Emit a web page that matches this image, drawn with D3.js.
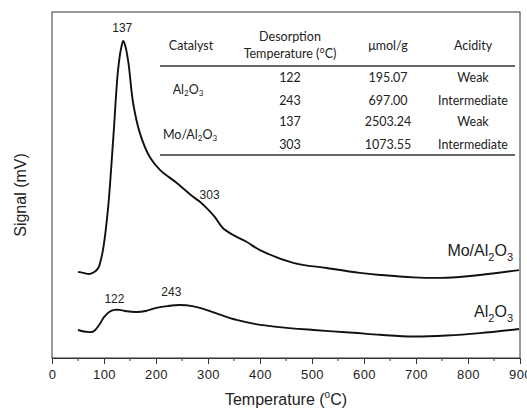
<!DOCTYPE html>
<html><head><meta charset="utf-8">
<script src="https://cdn.jsdelivr.net/npm/d3@7"></script>
<style>
html,body{margin:0;padding:0;background:#fff;}
svg{display:block;}
</style></head>
<body>
<svg id="chart" width="527" height="412"></svg>
<script>
// ---------- data ----------
const moTemp = [50,60,73,82,89,95,99,108,118,127,133,137,141,147,156,169,188,208,240,272,285,297,313,329,349,374,400,464,528,592,631,695,759,823,898];
const moSignal = [24.9,24.6,24.3,24.9,26.0,29.0,32.1,43.6,63.9,83.2,89.6,91.6,90.2,85.3,73.7,65.0,58.1,54.3,50.6,46.5,45.1,43.4,40.8,37.5,35.5,33.6,31.2,27.5,26.0,24.6,24.0,23.3,23.2,24.0,25.4];
const alTemp = [50,65,79,90,100,110,120,130,140,163,180,201,222,246,270,291,320,355,392,432,503,579,631,695,759,823,898];
const alSignal = [8.1,7.6,7.6,9.4,11.8,13.3,13.9,13.9,13.6,13.3,13.6,14.5,15.0,15.3,15.0,14.2,12.7,11.0,9.8,9.0,8.1,7.3,6.7,6.2,6.5,7.2,8.4];
const xTicks = [0,100,200,300,400,500,600,700,800,900];
const peakLabels = ["137","303","122","243"];
const peakTemps = [137,303,122,243];
const peakLevels = [95.4,47.1,17.1,19.1];
const tableHeader = ["Catalyst",["Desorption","Temperature (°C)"],"μmol/g","Acidity"];
const tableCatalysts = ["Al2O3","Mo/Al2O3"];
const tableTemps = ["122","243","137","303"];
const tableAmounts = ["195.07","697.00","2503.24","1073.55"];
const tableAcidity = ["Weak","Intermediate","Weak","Intermediate"];

// ---------- layout ----------
const svg = d3.select("#chart");
const L = 52, R = 520, T = 12, B = 358;
const x = d3.scaleLinear().domain([0,900]).range([L,R]);
const y = d3.scaleLinear().domain([0,100]).range([B,B-346]);
const ink = "#111";

// frame
svg.append("rect").attr("x",L).attr("y",T).attr("width",R-L).attr("height",B-T)
  .attr("fill","none").attr("stroke","#333").attr("stroke-width",1);

// x axis
const xAxis = d3.axisBottom(x).tickValues(xTicks).tickSize(6).tickSizeOuter(0).tickFormat(d3.format("d"));
const gx = svg.append("g").attr("transform",`translate(0,${B})`).call(xAxis);
gx.select(".domain").attr("stroke","#333");
gx.selectAll(".tick line").attr("stroke","#333");
gx.selectAll(".tick text").attr("font-family","'Liberation Sans', Arial, sans-serif")
  .attr("font-size",13).attr("fill","#222").attr("dy","0.95em").attr("letter-spacing","0.5px");
const minor = d3.range(50,900,100);
svg.append("g").selectAll("line").data(minor).join("line")
  .attr("x1",d=>x(d)).attr("x2",d=>x(d)).attr("y1",B).attr("y2",B+3).attr("stroke","#333");

// curves
const line = d3.line().x(d=>x(d[0])).y(d=>y(d[1])).curve(d3.curveCatmullRom.alpha(0.5));
svg.append("path").datum(d3.zip(moTemp,moSignal)).attr("d",line)
  .attr("fill","none").attr("stroke",ink).attr("stroke-width",1.9).attr("stroke-linejoin","round");
svg.append("path").datum(d3.zip(alTemp,alSignal)).attr("d",line)
  .attr("fill","none").attr("stroke",ink).attr("stroke-width",1.9).attr("stroke-linejoin","round");

// peak labels
const dxs = [-1,0,-1,-7];
svg.append("g").selectAll("text").data(peakLabels).join("text")
  .attr("x",(d,i)=>x(peakTemps[i])+dxs[i]).attr("y",(d,i)=>y(peakLevels[i])+4)
  .attr("text-anchor","middle").attr("font-family","'Liberation Sans', Arial, sans-serif")
  .attr("font-size",12).attr("fill","#222").text(d=>d);

// series labels with subscripts
function chem(g, parts, xEnd, yBase, size, subSize){
  const t = g.append("text").attr("x",xEnd).attr("y",yBase).attr("text-anchor","end")
    .attr("font-family","'Liberation Sans', Arial, sans-serif").attr("font-size",size).attr("fill","#222");
  let down = false;
  parts.forEach(p=>{
    const s = t.append("tspan").text(p.t);
    if(p.sub){ s.attr("font-size",subSize).attr("dy", down?0:size*0.3); down=true; }
    else { if(down){ s.attr("dy",-size*0.3); down=false; } }
  });
  return t;
}
chem(svg, [{t:"Mo/Al"},{t:"2",sub:1},{t:"O"},{t:"3",sub:1}], 513, 256, 16, 11);
chem(svg, [{t:"Al"},{t:"2",sub:1},{t:"O"},{t:"3",sub:1}], 513, 317, 16, 11);

// axis titles
const xt = svg.append("text").attr("x",286).attr("y",405).attr("text-anchor","middle")
  .attr("font-family","'Liberation Sans', Arial, sans-serif").attr("font-size",16).attr("fill","#222");
xt.append("tspan").text("Temperature (");
xt.append("tspan").text("o").attr("font-size",10).attr("dy",-7);
xt.append("tspan").text("C)").attr("dy",7);
svg.append("text").attr("transform","translate(26,195) rotate(-90)").attr("text-anchor","middle")
  .attr("font-family","'Liberation Sans', Arial, sans-serif").attr("font-size",16).attr("fill","#222")
  .text("Signal (mV)");

// table
const tf = "Lato, 'Open Sans', sans-serif";
const tb = svg.append("g").attr("font-family",tf).attr("font-size",12.5).attr("fill","#222").attr("text-anchor","middle");
const colX = [191,290,388,473];
const rowY = [78,101,122,145];
tb.append("text").attr("x",colX[0]).attr("y",50).text(tableHeader[0]);
tb.append("text").attr("x",colX[1]).attr("y",41).text(tableHeader[1][0]);
tb.append("text").attr("x",colX[1]).attr("y",58).text(tableHeader[1][1]);
tb.append("text").attr("x",colX[2]).attr("y",50).text(tableHeader[2]);
tb.append("text").attr("x",colX[3]).attr("y",50).text(tableHeader[3]);
tb.append("line").attr("x1",160).attr("x2",515).attr("y1",66).attr("y2",66).attr("stroke","#333").attr("stroke-width",1.4);
tb.append("line").attr("x1",160).attr("x2",515).attr("y1",155).attr("y2",155).attr("stroke","#333").attr("stroke-width",1.4);
tb.append("g").selectAll("text").data(tableTemps).join("text")
  .attr("x",colX[1]).attr("y",(d,i)=>rowY[i]+4).text(d=>d);
tb.append("g").selectAll("text").data(tableAmounts).join("text")
  .attr("x",colX[2]).attr("y",(d,i)=>rowY[i]+4).text(d=>d);
tb.append("g").selectAll("text").data(tableAcidity).join("text")
  .attr("x",colX[3]).attr("y",(d,i)=>rowY[i]+4).text(d=>d);
function chemTable(str, cx, cy){
  const t = tb.append("text").attr("x",cx).attr("y",cy);
  const parts = str.split(/(\d)/).filter(s=>s.length);
  let down=false;
  parts.forEach(p=>{
    const s = t.append("tspan").text(p);
    if(/\d/.test(p)){ s.attr("font-size",8).attr("dy",down?0:2); down=true; }
    else if(down){ s.attr("dy",-2); down=false; }
  });
}
chemTable(tableCatalysts[0], 188, 94);
chemTable(tableCatalysts[1], 190, 139);
</script>
</body></html>
